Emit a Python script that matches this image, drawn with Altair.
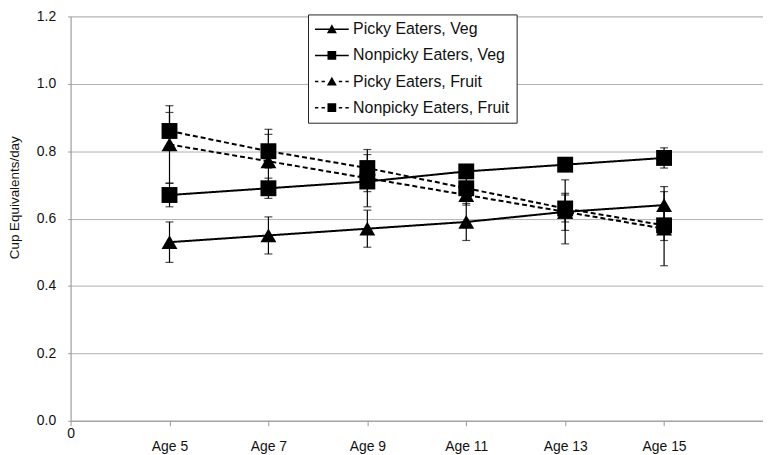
import altair as alt
import pandas as pd

# ---- data ----
ages = [5, 7, 9, 11, 13, 15]
series_names = ["Picky Eaters, Veg", "Nonpicky Eaters, Veg",
                "Picky Eaters, Fruit", "Nonpicky Eaters, Fruit"]
picky_veg = [0.53, 0.55, 0.57, 0.59, 0.62, 0.64]
picky_veg_err = [0.06, 0.055, 0.055, 0.055, 0.055, 0.055]
nonpicky_veg = [0.67, 0.69, 0.71, 0.74, 0.76, 0.78]
nonpicky_veg_err = [0.035, 0.03, 0.03, 0.02, 0.01, 0.03]
picky_fruit = [0.82, 0.77, 0.72, 0.67, 0.62, 0.57]
picky_fruit_err = [0.115, 0.095, 0.085, 0.03, 0.095, 0.11]
nonpicky_fruit = [0.86, 0.80, 0.75, 0.69, 0.63, 0.58]
nonpicky_fruit_err = [0.055, 0.05, 0.04, 0.03, 0.04, 0.045]
x_tick_values = [3, 5, 7, 9, 11, 13, 15, 17]
y_tick_values = [0, 0.2, 0.4, 0.6, 0.8, 1.0, 1.2]

rows = []
for name, vals, errs in zip(series_names,
                            [picky_veg, nonpicky_veg, picky_fruit, nonpicky_fruit],
                            [picky_veg_err, nonpicky_veg_err, picky_fruit_err, nonpicky_fruit_err]):
    for a, v, e in zip(ages, vals, errs):
        rows.append({"series": name, "age": a, "value": v, "lo": v - e, "hi": v + e})
df = pd.DataFrame(rows)

FONT = "Liberation Sans"
TEXT = "#111111"

# legend symbol paths (line + marker) drawn as filled shapes, units of 4 px (symbolSize 64)
def rect(x1, x2, h=0.19):
    return f"M{x1},{-h}L{x2},{-h}L{x2},{h}L{x1},{h}Z"

solid_tri_line = rect(-4.25, -0.5) + rect(0.5, 4.25)
solid_sq_line = rect(-4.25, -1.0) + rect(1.0, 4.25)
dash_segs = [(-4.25, -3.4), (-2.6, -1.75), (1.75, 2.6), (3.4, 4.25)]
dashed_line = "".join(rect(a, b) for a, b in dash_segs)
tri = "M-1.25,1L0,-1.25L1.25,1Z"
sq = "M-1.1,-1.1L1.1,-1.1L1.1,1.1L-1.1,1.1Z"
legend_paths = [solid_tri_line + tri, solid_sq_line + sq,
                dashed_line + tri, dashed_line + sq]

x_enc = alt.X(
    "age:Q",
    scale=alt.Scale(domain=[3, 17], nice=False, zero=False),
    axis=alt.Axis(
        values=x_tick_values,
        labelExpr="datum.value == 3 ? '0' : (datum.value == 17 ? '' : 'Age ' + datum.value)",
        title=None, grid=False, domainColor="#9a9a9a", tickColor="#9a9a9a",
        tickSize=5, labelFontSize=14, labelFont=FONT, labelColor=TEXT,
        labelPadding={"condition": {"test": "datum.value == 3", "value": 1}, "value": 14},
        labelFlush=False, labelOverlap=False,
    ),
)
y_scale = alt.Scale(domain=[0, 1.2], nice=False)
y_axis = alt.Axis(
    values=y_tick_values, format=".1f", title="Cup Equivalents/day",
    titleFont=FONT, titleFontSize=13.5, titleFontWeight="normal", titleColor=TEXT,
    titleX=-56, titleY=182, titleBaseline="middle", titleAngle=270,
    labelFont=FONT, labelFontSize=14, labelColor=TEXT, labelPadding=12,
    labelFlush=False,
    grid=True, gridColor="#b0b0b0", gridWidth=1,
    domainColor="#9a9a9a", tickColor="#9a9a9a", tickSize=3,
)

base = alt.Chart(df)

lines = base.mark_line(color="black", strokeWidth=2).encode(
    x=x_enc,
    y=alt.Y("value:Q", scale=y_scale, axis=y_axis),
    strokeDash=alt.StrokeDash(
        "series:N",
        scale=alt.Scale(domain=series_names, range=[[1, 0], [1, 0], [5, 3], [5, 3]]),
        legend=None,
    ),
    detail="series:N",
)

rules = base.mark_rule(color="black", strokeWidth=1.2).encode(
    x="age:Q", y="lo:Q", y2="hi:Q"
)
ticks_lo = base.mark_tick(color="black", orient="horizontal", size=8, thickness=1.2).encode(
    x="age:Q", y="lo:Q"
)
ticks_hi = base.mark_tick(color="black", orient="horizontal", size=8, thickness=1.2).encode(
    x="age:Q", y="hi:Q"
)

points = base.mark_point(filled=True, color="black", opacity=1, size=256).encode(
    x="age:Q",
    y="value:Q",
    shape=alt.Shape(
        "series:N",
        scale=alt.Scale(domain=series_names,
                        range=["triangle-up", "square", "triangle-up", "square"]),
        legend=None,
    ),
)

# legend-only layer (no rows drawn): symbols combine the line style and the marker
legend_layer = base.transform_filter("false").mark_point(
    filled=True, color="black", opacity=1, size=64
).encode(
    x="age:Q",
    y="value:Q",
    shape=alt.Shape(
        "series:N",
        scale=alt.Scale(domain=series_names, range=legend_paths),
        legend=alt.Legend(
            title=None, orient="none", legendX=239, legendY=-2, direction="vertical",
            padding=7, strokeColor="#222222", fillColor="white",
            symbolSize=64, symbolOffset=9, labelOffset=13.4, rowPadding=10.3,
            symbolFillColor="black", symbolStrokeWidth=0, symbolOpacity=1,
            labelFont=FONT, labelFontSize=16, labelColor=TEXT, labelLimit=260,
            labelExpr="datum.label + '      '",
        ),
    ),
)

chart = alt.layer(lines, rules, ticks_lo, ticks_hi, points, legend_layer).resolve_scale(
    shape="independent"
).resolve_legend(shape="independent").properties(
    width=697, height=407,
    padding={"left": 63, "top": 7, "right": 0, "bottom": 33},
    autosize=alt.AutoSizeParams(type="none"),
).configure_view(stroke=None).configure(background="white")

chart.save("out.html", embed_options={"renderer": "svg", "actions": False})
